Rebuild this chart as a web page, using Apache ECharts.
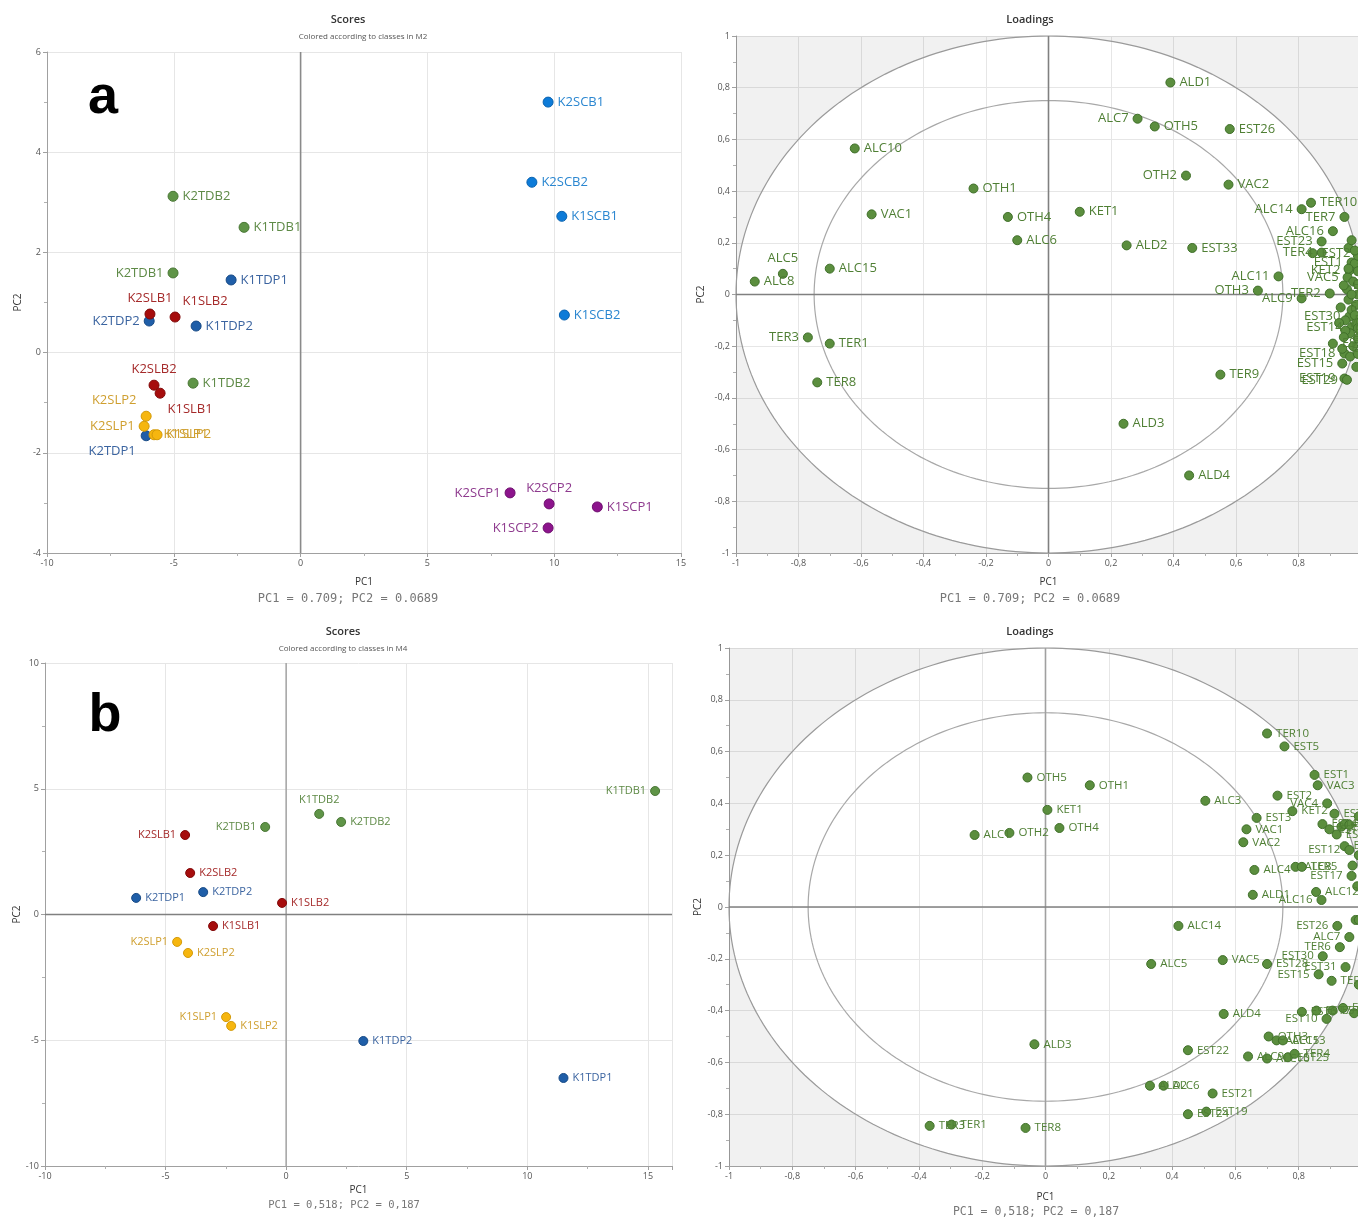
<!DOCTYPE html>
<html><head><meta charset="utf-8">
<script src="https://cdn.jsdelivr.net/npm/echarts@6/dist/echarts.min.js"></script>
<style>html,body{margin:0;padding:0;background:#fff}#c{width:1358px;height:1219px}</style>
</head><body><div id="c"></div>
<script>
// ---------------- DATA ----------------
// Panel a – scores (classes in M2)
const scoresA_names = ['K2SCB1','K2SCB2','K1SCB1','K1SCB2','K2SCP1','K2SCP2','K1SCP1','K1SCP2','K2TDB2','K1TDB1','K2TDB1','K1TDB2','K1TDP1','K2TDP2','K1TDP2','K2TDP1','K2SLB1','K1SLB2','K2SLB2','K1SLB1','K2SLP2','K2SLP1','K1SLP1','K1SLP2'];
const scoresA_pc1 = [9.76, 9.12, 10.3, 10.4, 8.26, 9.8, 11.7, 9.76, -5.03, -2.23, -5.03, -4.24, -2.74, -5.97, -4.12, -6.09, -5.94, -4.95, -5.78, -5.54, -6.09, -6.17, -5.78, -5.66];
const scoresA_pc2 = [5.0, 3.4, 2.72, 0.75, -2.8, -3.02, -3.08, -3.5, 3.12, 2.5, 1.59, -0.61, 1.45, 0.63, 0.53, -1.66, 0.77, 0.71, -0.65, -0.81, -1.27, -1.47, -1.64, -1.64];

// Panel b – scores (classes in M4)
const scoresB_names = ['K1TDB1','K1TDB2','K2TDB2','K2TDB1','K2SLB1','K2SLB2','K2TDP2','K2TDP1','K1SLB2','K1SLB1','K2SLP1','K2SLP2','K1SLP1','K1SLP2','K1TDP2','K1TDP1'];
const scoresB_pc1 = [15.3, 1.37, 2.28, -0.87, -4.19, -3.98, -3.44, -6.22, -0.17, -3.03, -4.52, -4.07, -2.49, -2.28, 3.2, 11.5];
const scoresB_pc2 = [4.91, 4.0, 3.68, 3.48, 3.16, 1.65, 0.89, 0.66, 0.46, -0.46, -1.09, -1.53, -4.08, -4.43, -5.03, -6.5];

// Panel a – loadings
const loadA_vars = ['ALD1','ALC7','OTH5','EST26','ALC10','OTH2','OTH1','VAC2','VAC1','OTH4','KET1','ALC14','ALC6','ALD2','EST33','ALC5','ALC8','ALC15','ALC11','OTH3','ALC9','TER3','TER1','TER8','TER9','ALD3','ALD4',
  'TER10','TER7','ALC16','EST23','TER4','EST2','EST1','KET2','VAC5','TER2','EST30','EST14','EST24','EST18','EST15','EST19','EST29',
  'ALC1','ALC2','ALC3','ALC4','ALC12','ALC13','EST3','EST4','EST5','EST6','EST7','EST8','EST9','EST10','EST11','EST12','EST13','EST16','EST17','EST20','EST21','EST22','EST25','EST27','EST28','EST31','EST32','TER5','TER6','VAC3','VAC4'];
const loadA_pc1 = [0.39, 0.285, 0.34, 0.58, -0.62, 0.44, -0.24, 0.576, -0.566, -0.13, 0.10, 0.81, -0.10, 0.25, 0.46, -0.85, -0.94, -0.70, 0.736, 0.67, 0.81, -0.77, -0.70, -0.74, 0.55, 0.24, 0.45,
  0.84, 0.947, 0.91, 0.874, 0.874, 0.845, 0.97, 0.963, 0.957, 0.90, 0.963, 0.97, 0.91, 0.947, 0.94, 0.947, 0.955,
  0.96, 0.98, 0.975, 0.955, 0.99, 0.985, 0.96, 0.945, 0.99, 0.97, 0.95, 0.94, 0.985, 0.965, 0.99, 0.95, 0.975, 0.99, 0.965, 0.98, 0.99, 0.935, 0.99, 0.97, 0.985, 0.945, 0.98, 0.96, 0.99, 0.97, 0.93];
const loadA_pc2 = [0.82, 0.68, 0.65, 0.64, 0.565, 0.46, 0.41, 0.425, 0.31, 0.30, 0.32, 0.33, 0.21, 0.19, 0.18, 0.08, 0.05, 0.10, 0.07, 0.015, -0.015, -0.166, -0.19, -0.34, -0.31, -0.50, -0.70,
  0.355, 0.30, 0.245, 0.205, 0.162, 0.16, 0.124, 0.093, 0.066, 0.004, -0.085, -0.128, -0.19, -0.228, -0.267, -0.325, -0.33,
  0.18, 0.12, 0.05, 0.02, 0.0, -0.04, -0.02, 0.035, 0.09, -0.06, -0.10, -0.21, -0.11, -0.15, -0.17, -0.14, -0.20, 0.15, -0.24, -0.08, 0.04, -0.05, -0.23, 0.21, -0.28, -0.165, 0.17, 0.10, -0.13, 0.0, -0.11];

// Panel b – loadings
const loadB_vars = ['TER10','EST5','OTH5','OTH1','EST1','VAC3','ALC3','EST2','KET1','VAC4','KET2','EST3','VAC1','VAC2','OTH4','ALC1','OTH2','EST4','EST8','EST11','EST13','EST14','EST16','ALC2','EST18','EST12','EST20','ALC4','ALC8','TER5','EST17','ALD1','ALC12','ALC16','TER7','ALC11','EST33',
  'ALC14','EST26','ALC7','TER6','EST30','VAC5','EST28','ALC5','EST31','EST15','TER9','EST29','EST23','TER2','ALD4','EST6','EST7','EST9','EST10','EST27','EST32','ALD3','OTH3','ALC15','ALC13','EST22','ALC9','ALC10','EST25','TER4','ALD2','ALC6','EST21','EST24','EST19','TER3','TER1','TER8'];
const loadB_pc1 = [0.70, 0.755, -0.057, 0.14, 0.85, 0.86, 0.505, 0.733, 0.006, 0.89, 0.78, 0.667, 0.635, 0.625, 0.044, -0.224, -0.114, 0.875, 0.897, 0.913, 0.92, 0.935, 0.945, 0.96, 0.945, 0.96, 0.97, 0.66, 0.79, 0.81, 0.967, 0.655, 0.855, 0.872, 0.985, 0.99, 0.99,
  0.42, 0.922, 0.96, 0.93, 0.876, 0.56, 0.70, 0.334, 0.948, 0.863, 0.904, 0.99, 0.98, 0.99, 0.563, 0.81, 0.856, 0.907, 0.888, 0.94, 0.975, -0.035, 0.705, 0.73, 0.75, 0.45, 0.64, 0.70, 0.766, 0.787, 0.33, 0.373, 0.528, 0.45, 0.508, -0.366, -0.297, -0.063];
const loadB_pc2 = [0.67, 0.62, 0.50, 0.47, 0.51, 0.47, 0.41, 0.43, 0.375, 0.40, 0.37, 0.344, 0.30, 0.25, 0.305, 0.278, 0.286, 0.32, 0.30, 0.36, 0.28, 0.31, 0.32, 0.317, 0.235, 0.22, 0.16, 0.143, 0.155, 0.155, 0.12, 0.047, 0.058, 0.027, 0.08, 0.2, 0.35,
  -0.073, -0.073, -0.116, -0.155, -0.19, -0.205, -0.22, -0.22, -0.232, -0.26, -0.285, -0.3, -0.05, -0.05, -0.413, -0.405, -0.40, -0.40, -0.432, -0.39, -0.41, -0.53, -0.50, -0.515, -0.515, -0.553, -0.577, -0.585, -0.58, -0.567, -0.69, -0.69, -0.72, -0.80, -0.79, -0.845, -0.84, -0.853];

// ---------------- STYLE ----------------
const FONT = 'Open Sans';
const COL = {
  SCB: {dot: '#0d7bd8', edge: '#0a63b0', text: '#2a86d0'},
  SCP: {dot: '#8c148c', edge: '#6e0f6e', text: '#8e3a8e'},
  TDB: {dot: '#5f9447', edge: '#4a7836', text: '#5e8a46'},
  TDP: {dot: '#1f5ea8', edge: '#174a86', text: '#3b64a0'},
  SLB: {dot: '#a60d0d', edge: '#820909', text: '#a52a2a'},
  SLP: {dot: '#f6b60f', edge: '#d39a08', text: '#cf9f2f'}
};
const LOAD_COL = {dot: '#5b8e3e', edge: '#40702a', text: '#4f7f34'};

const placeScoresA = {
  K2SCP1: ['left', 0, 0], K2SCP2: ['top', 0, 0], K1SCP2: ['left', 0, 0],
  K2TDB1: ['left', 0, 0], K2SLB1: ['top', 0, 0], K1SLB2: ['top', 30, 0], K2TDP2: ['left', 0, 0],
  K2SLB2: ['top', 0, 0], K1SLB1: ['bottom', 30, 0], K2SLP2: ['top', -32, 0], K2SLP1: ['left', 0, 0], K2TDP1: ['bottom', -34, 0]
};
const placeScoresB = {
  K1TDB1: ['left', 0, 0], K1TDB2: ['top', 0, 0], K2TDB1: ['left', 0, 0], K2SLB1: ['left', 0, 0], K2SLP1: ['left', 0, 0], K1SLP1: ['left', 0, 0]
};
const placeLoadA = {
  ALC7: 'left', OTH2: 'left', ALC14: 'left', ALC11: 'left', OTH3: 'left', ALC9: 'left', TER3: 'left', ALC5: 'top',
  TER7: 'left', ALC16: 'left', EST23: 'left', TER4: 'left', EST1: 'left', KET2: 'left', VAC5: 'left', TER2: 'left',
  EST30: 'left', EST14: 'left', EST18: 'left', EST15: 'left', EST19: 'left', EST29: 'left'
};
const placeLoadB = {
  VAC4: 'left', EST12: 'left', EST17: 'left', ALC16: 'left', EST26: 'left', ALC7: 'left', TER6: 'left', EST30: 'left',
  EST31: 'left', EST15: 'left', EST10: 'left'
};

// ---------------- BUILD ----------------
const CLASSES = ['SCB', 'SCP', 'TDB', 'TDP', 'SLB', 'SLP'];
function scoreSeries(names, p1, p2, place, gi, symSize, fontSize) {
  return CLASSES.map(cls => {
    const data = [];
    names.forEach((n, i) => {
      if (n.slice(2, 5) === cls) {
        const pl = place[n] || ['right', 0, 0];
        data.push({name: n, value: [p1[i], p2[i]], label: {position: pl[0], offset: [pl[1], pl[2]]}});
      }
    });
    return {
      type: 'scatter', xAxisIndex: gi, yAxisIndex: gi, data, symbolSize: symSize, silent: true, z: 3,
      itemStyle: {color: COL[cls].dot, borderColor: COL[cls].edge, borderWidth: 1, opacity: 1},
      label: {show: true, formatter: '{b}', color: COL[cls].text, fontSize, fontFamily: FONT, distance: 4}
    };
  }).filter(s => s.data.length);
}
function loadSeries(names, p1, p2, place, gi, symSize, fontSize) {
  const data = names.map((n, i) => ({name: n, value: [p1[i], p2[i]], label: {position: place[n] || 'right'}}));
  return {
    type: 'scatter', xAxisIndex: gi, yAxisIndex: gi, data, symbolSize: symSize, silent: true, z: 3,
    itemStyle: {color: LOAD_COL.dot, borderColor: LOAD_COL.edge, borderWidth: 1, opacity: 1},
    label: {show: true, formatter: '{b}', color: LOAD_COL.text, fontSize, fontFamily: FONT, distance: 4}
  };
}
function deco(gi, opts) {
  return {
    type: 'custom', xAxisIndex: gi, yAxisIndex: gi, data: [[0, 0]], silent: true, z: 1, clip: false,
    renderItem: (params, api) => {
      const cs = params.coordSys;
      const x0 = cs.x, y0 = cs.y, x1 = cs.x + cs.width, y1 = cs.y + cs.height;
      const o = api.coord([0, 0]);
      const ch = [];
      if (opts.circles) {
        const ux = api.coord([1, 0])[0] - o[0], uy = o[1] - api.coord([0, 1])[1];
        const ell = r => {
          const pts = [];
          for (let k = 0; k <= 240; k++) {
            const t = k / 240 * 2 * Math.PI;
            pts.push([o[0] + r * ux * Math.cos(t), o[1] - r * uy * Math.sin(t)]);
          }
          return pts;
        };
        const outer = ell(1);
        let d = 'M' + x0 + ' ' + y0 + 'L' + x1 + ' ' + y0 + 'L' + x1 + ' ' + y1 + 'L' + x0 + ' ' + y1 + 'Z';
        d += 'M' + outer.map(p => p[0].toFixed(2) + ' ' + p[1].toFixed(2)).join('L') + 'Z';
        ch.push({type: 'path', shape: {pathData: d}, style: {fill: 'rgba(0,0,0,0.055)', stroke: null}});
        ch.push({type: 'polyline', shape: {points: outer}, style: {fill: null, stroke: '#9a9a9a', lineWidth: 1.2}});
        ch.push({type: 'polyline', shape: {points: ell(0.75)}, style: {fill: null, stroke: '#a8a8a8', lineWidth: 1.2}});
      }
      if (opts.vz) ch.push({type: 'line', shape: {x1: o[0], y1: y0, x2: o[0], y2: y1}, style: {stroke: opts.vz, lineWidth: 1.6}});
      if (opts.hz) ch.push({type: 'line', shape: {x1: x0, y1: o[1], x2: x1, y2: o[1]}, style: {stroke: opts.hz, lineWidth: 1.6}});
      return {type: 'group', children: ch};
    }
  };
}
const loadFmt = v => String(Math.round(v * 10) / 10).replace('.', ',');
function mkAxis(gi, min, max, interval, fmt, name, nameGap) {
  return {
    gridIndex: gi, type: 'value', min, max, interval,
    name, nameLocation: 'middle', nameGap,
    nameTextStyle: {fontSize: 10, color: '#333', fontFamily: FONT},
    axisLine: {show: true, onZero: false, lineStyle: {color: '#a0a0a0', width: 1}},
    axisTick: {show: true, length: 4, lineStyle: {color: '#a0a0a0'}},
    minorTick: {show: true, splitNumber: 2, length: 3, lineStyle: {color: '#b0b0b0'}},
    splitLine: {show: true, lineStyle: {color: '#e6e6e6', width: 1}},
    axisLabel: {fontSize: 9, color: '#555', fontFamily: FONT, margin: 6, formatter: fmt}
  };
}
const grids = [
  {left: 47, top: 52, width: 634, height: 501},
  {left: 736, top: 36, width: 625, height: 517},
  {left: 45, top: 663, width: 627, height: 503},
  {left: 729, top: 648, width: 633, height: 518}
].map(g => Object.assign(g, {containLabel: false, outerBoundsMode: 'none'}));

const intFmt = v => String(v);
const xAxes = [
  mkAxis(0, -10, 15, 5, intFmt, 'PC1', 24),
  mkAxis(1, -1, 1, 0.2, loadFmt, 'PC1', 24),
  mkAxis(2, -10, 16, 5, v => (v % 5 === 0 ? String(v) : ''), 'PC1', 19),
  mkAxis(3, -1, 1, 0.2, loadFmt, 'PC1', 26)
];
const yAxes = [
  mkAxis(0, -4, 6, 2, intFmt, 'PC2', 24),
  mkAxis(1, -1, 1, 0.2, loadFmt, 'PC2', 30),
  mkAxis(2, -10, 10, 5, intFmt, 'PC2', 22),
  mkAxis(3, -1, 1, 0.2, loadFmt, 'PC2', 24)
];

function txt(x, y, s, style) {
  return {type: 'text', x, y, silent: true, z: 10,
    style: Object.assign({text: s, textAlign: 'center', textVerticalAlign: 'middle', fontFamily: FONT, fill: '#333'}, style)};
}
const mono = 'DejaVu Sans Mono';
const graphics = [
  txt(348, 20, 'Scores', {fontSize: 11, fontWeight: 600}),
  txt(363, 37, 'Colored according to classes in M2', {fontSize: 8, fill: '#555'}),
  txt(1030, 20, 'Loadings', {fontSize: 11, fontWeight: 600}),
  txt(348, 599, 'PC1 = 0.709; PC2 = 0.0689', {fontSize: 12, fill: '#777', fontFamily: mono}),
  txt(1030, 599, 'PC1 = 0.709; PC2 = 0.0689', {fontSize: 12, fill: '#777', fontFamily: mono}),
  txt(343, 632, 'Scores', {fontSize: 11, fontWeight: 600}),
  txt(343, 649, 'Colored according to classes in M4', {fontSize: 8, fill: '#555'}),
  txt(1030, 632, 'Loadings', {fontSize: 11, fontWeight: 600}),
  txt(344, 1205, 'PC1 = 0,518; PC2 = 0,187', {fontSize: 10.5, fill: '#777', fontFamily: mono}),
  txt(1036, 1212, 'PC1 = 0,518; PC2 = 0,187', {fontSize: 11.5, fill: '#777', fontFamily: mono}),
  txt(103, 98, 'a', {fontSize: 54, fontWeight: 'bold', fill: '#000', fontFamily: 'Liberation Sans'}),
  txt(105, 716, 'b', {fontSize: 54, fontWeight: 'bold', fill: '#000', fontFamily: 'Liberation Sans'})
];

const series = [
  deco(0, {vz: '#8a8a8a'}),
  deco(1, {circles: true, vz: '#808080', hz: '#808080'}),
  deco(2, {vz: '#a8a8a8', hz: '#808080'}),
  deco(3, {circles: true, vz: '#a0a0a0', hz: '#808080'}),
  ...scoreSeries(scoresA_names, scoresA_pc1, scoresA_pc2, placeScoresA, 0, 10, 13),
  loadSeries(loadA_vars, loadA_pc1, loadA_pc2, placeLoadA, 1, 9, 13),
  ...scoreSeries(scoresB_names, scoresB_pc1, scoresB_pc2, placeScoresB, 2, 9, 11),
  loadSeries(loadB_vars, loadB_pc1, loadB_pc2, placeLoadB, 3, 9, 11.5)
];

const chart = echarts.init(document.getElementById('c'), null, {renderer: 'canvas'});
chart.setOption({
  backgroundColor: '#fff',
  animation: false,
  grid: grids,
  xAxis: xAxes,
  yAxis: yAxes,
  graphic: graphics,
  series
});
</script></body></html>
